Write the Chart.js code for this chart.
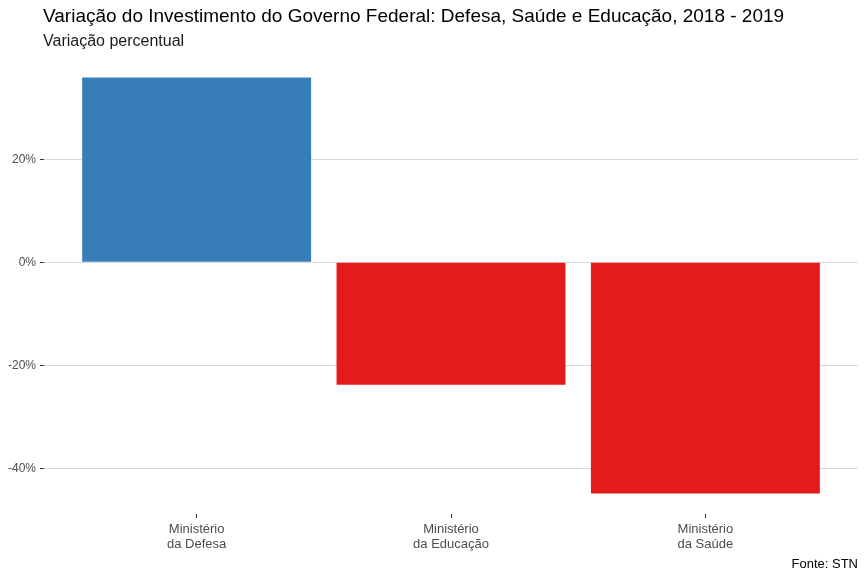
<!DOCTYPE html>
<html>
<head>
<meta charset="utf-8">
<script src="https://cdn.jsdelivr.net/npm/chart.js"></script>
<style>
  html, body { margin: 0; padding: 0; background: #fff; }
  #wrap { width: 866px; height: 578px; position: relative; }
</style>
</head>
<body>
<div id="wrap"><canvas id="chart" width="866" height="578"></canvas></div>
<script>
// dados
const categorias = [["Ministério", "da Defesa"], ["Ministério", "da Educação"], ["Ministério", "da Saúde"]];
const variacao = [35.9, -23.8, -44.9];
const yTicks = [-40, -20, 0, 20];

const titulo = "Variação do Investimento do Governo Federal: Defesa, Saúde e Educação, 2018 - 2019";
const subtitulo = "Variação percentual";
const fonte = "Fonte: STN";

const FONT = "Arial, 'Liberation Sans', sans-serif";

// título, subtítulo e fonte desenhados à mão (estilo ggplot)
const textos = {
  id: "textos",
  afterDraw(chart) {
    const ctx = chart.ctx;
    const area = chart.chartArea;
    ctx.save();
    ctx.textBaseline = "middle";
    ctx.fillStyle = "#000";
    ctx.textAlign = "left";
    ctx.font = "19px " + FONT;
    ctx.fillText(titulo, area.left - 1, 17);
    ctx.fillStyle = "#1a1a1a";
    ctx.font = "16px " + FONT;
    ctx.fillText(subtitulo, area.left - 1, 42);
    ctx.fillStyle = "#000";
    ctx.font = "13px " + FONT;
    ctx.textAlign = "right";
    ctx.fillText(fonte, area.right, 564);
    ctx.restore();
  }
};

const ctx = document.getElementById("chart").getContext("2d");
new Chart(ctx, {
  type: "bar",
  data: {
    datasets: [{
      data: variacao.map((v, i) => ({ x: i + 1, y: v })),
      backgroundColor: variacao.map(v => v >= 0 ? "#377EB8" : "#E41A1C"),
      borderWidth: 0,
      categoryPercentage: 1,
      barPercentage: 0.9,
    }],
  },
  options: {
    responsive: false,
    animation: false,
    layout: { padding: { top: 57, right: 8, bottom: 0, left: 0 } },
    plugins: {
      legend: { display: false },
      tooltip: { enabled: false },
    },
    scales: {
      x: {
        type: "linear",
        min: 0.4,
        max: 3.6,
        offset: false,
        afterBuildTicks: (s) => { s.ticks = categorias.map((_, i) => ({ value: i + 1 })); },
        afterFit: (s) => { s.height = 64; },
        ticks: {
          callback: (v) => categorias[v - 1],
          color: "#4D4D4D",
          font: { family: FONT, size: 13, lineHeight: "15px" },
          padding: 4,
          maxRotation: 0,
          autoSkip: false,
        },
        grid: { offset: false, drawOnChartArea: false, tickLength: 4, tickColor: "#333", tickWidth: 1 },
        border: { display: false },
      },
      y: {
        min: -48.9,
        max: 39.9,
        afterBuildTicks: (s) => { s.ticks = yTicks.map(v => ({ value: v })); },
        afterFit: (s) => { s.width = 44; },
        ticks: {
          callback: (v) => v + "%",
          color: "#4D4D4D",
          font: { family: FONT, size: 12 },
          padding: 4,
        },
        grid: { color: "#D9D9D9", tickLength: 4, tickColor: "#333", tickWidth: 1 },
        border: { display: false },
      },
    },
  },
  plugins: [textos],
});
</script>
</body>
</html>
